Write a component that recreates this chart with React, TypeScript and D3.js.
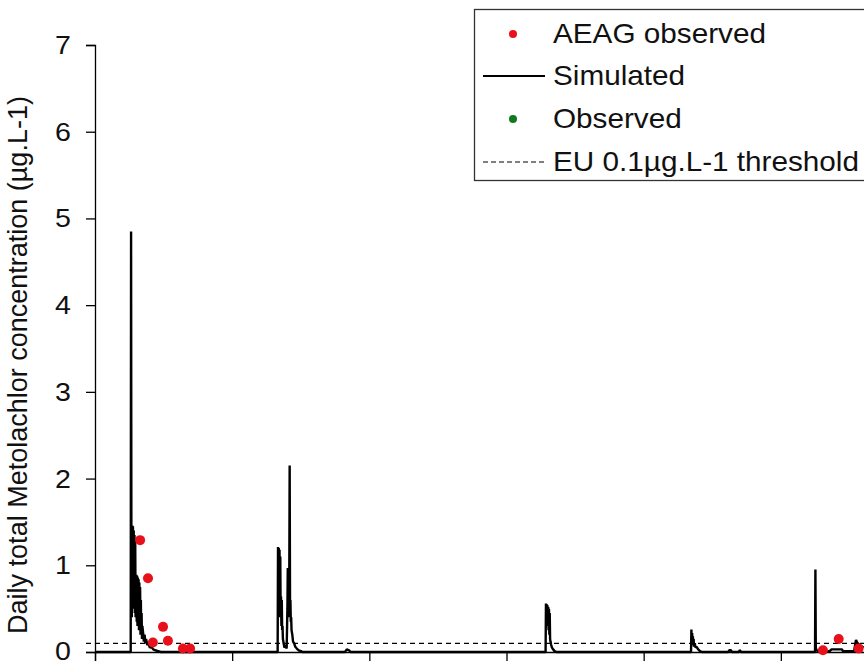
import { useRef, useEffect } from 'react'
import * as d3 from 'd3'

// day index (from start of series) -> daily total concentration (µg/L)
const simulated: [number, number][] = [
  [0, 0], [95, 0], [96, 4.85], [97, 0.45], [98, 0.4], [99, 1.46], [100, 0.6], [101, 1.45],
  [102, 0.5], [103, 1.4], [104, 0.5], [105, 1.35], [106, 0.45], [107, 1.3], [108, 0.4],
  [109, 0.6], [110, 0.89], [111, 0.35], [112, 0.88], [113, 0.3], [114, 0.86], [115, 0.3],
  [116, 0.84], [117, 0.25], [118, 0.8], [119, 0.25], [120, 0.75], [121, 0.2], [122, 0.6],
  [123, 0.2], [124, 0.45], [125, 0.15], [126, 0.3], [128, 0.22], [130, 0.12], [132, 0.2],
  [134, 0.1], [136, 0.15], [139, 0.08], [142, 0.1], [146, 0.05], [150, 0.06], [155, 0.03],
  [160, 0.02], [168, 0.01], [175, 0],
  [486, 0], [487, 1.21], [488, 0.5], [489, 1.2], [490, 0.5], [491, 1.18], [492, 0.4],
  [493, 1.1], [494, 0.4], [495, 0.64], [496, 0.3], [497, 0.6], [498, 0.25], [499, 0.3],
  [500, 0.15], [502, 0.1], [504, 0.05], [507, 0.08], [510, 0.04], [512, 0.5], [513, 0.97],
  [514, 0.4], [515, 0.95], [516, 0.4], [517, 0.9], [518, 2.15], [519, 0.5], [520, 0.6],
  [521, 0.35], [522, 0.4], [523, 0.25], [525, 0.2], [527, 0.12], [530, 0.1], [533, 0.06],
  [537, 0.04], [542, 0.02], [548, 0.01], [552, 0],
  [665, 0], [670, 0.03], [676, 0.02], [680, 0],
  [1199, 0], [1200, 0.56], [1201, 0.3], [1202, 0.55], [1203, 0.3], [1204, 0.54], [1205, 0.3],
  [1206, 0.52], [1207, 0.25], [1208, 0.5], [1209, 0.2], [1210, 0.45], [1211, 0.15],
  [1212, 0.12], [1214, 0.08], [1216, 0.05], [1219, 0.03], [1223, 0.01], [1228, 0],
  [1586, 0], [1587, 0.26], [1588, 0.1], [1589, 0.22], [1590, 0.1], [1591, 0.18], [1592, 0.08],
  [1593, 0.15], [1594, 0.06], [1596, 0.1], [1598, 0.05], [1601, 0.06], [1605, 0.03],
  [1610, 0.01], [1615, 0],
  [1685, 0], [1688, 0.02], [1692, 0.02], [1695, 0], [1713, 0], [1716, 0.02], [1719, 0],
  [1916, 0], [1917, 0.95], [1918, 0.05], [1920, 0.02], [1925, 0.01], [1955, 0.01],
  [1960, 0.03], [1988, 0.03], [1990, 0.01], [2020, 0.01], [2025, 0.14], [2027, 0.12],
  [2030, 0.1], [2035, 0.08], [2045, 0.05],
]

const aeagObserved: [number, number][] = [
  [120, 1.29], [141, 0.85], [154, 0.11], [181, 0.29], [194, 0.13], [234, 0.04], [253, 0.04],
  [1937, 0.02], [1979, 0.15], [2032, 0.04],
]

const observed: [number, number][] = []

const threshold = 0.1
const yTicks = [0, 1, 2, 3, 4, 5, 6, 7]
const xTicks = [0, 365, 730, 1095, 1460, 1825, 2190]

const legendItems = ['AEAG observed', 'Simulated', 'Observed', 'EU 0.1µg.L-1 threshold']

const FONT = 'Liberation Sans, Arial, sans-serif'

export default function App() {
  const svgRef = useRef<SVGSVGElement>(null)

  useEffect(() => {
    if (!svgRef.current) return
    const svg = d3.select(svgRef.current)
    svg.selectAll('*').remove()

    const width = 864
    const height = 663
    const left = 95
    const top = 45
    const bottom = 652

    svg.attr('width', width).attr('height', height)

    const x = d3.scaleLinear().domain([0, 2190]).range([left, 918])
    const y = d3.scaleLinear().domain([0, 7]).range([bottom, top])

    // y axis
    const yAxis = svg
      .append('g')
      .attr('transform', `translate(${left},0)`)
      .call(d3.axisLeft(y).tickValues(yTicks).tickSize(9).tickFormat(() => ''))
    yAxis.select('.domain').attr('stroke', '#000').attr('stroke-width', 1.3)
    yAxis.selectAll('.tick line').attr('stroke', '#000').attr('stroke-width', 1.3)

    // tick labels, slightly stretched like the source
    svg
      .selectAll('.ylab')
      .data(yTicks)
      .enter()
      .append('text')
      .attr('transform', (d) => `translate(71,${Math.min(y(d) + 9, 660)}) scale(1.1,1)`)
      .attr('text-anchor', 'end')
      .attr('font-size', '26px')
      .attr('font-family', FONT)
      .attr('fill', '#111')
      .text((d) => d)

    // x axis (no labels, cropped)
    const xAxis = svg
      .append('g')
      .attr('transform', `translate(0,${bottom})`)
      .call(d3.axisBottom(x).tickValues(xTicks).tickSize(9).tickFormat(() => ''))
    xAxis.select('.domain').attr('stroke', '#000').attr('stroke-width', 1.3)
    xAxis.selectAll('.tick line').attr('stroke', '#000').attr('stroke-width', 1.3)

    // threshold
    svg
      .append('line')
      .attr('x1', left - 9)
      .attr('x2', width)
      .attr('y1', y(threshold))
      .attr('y2', y(threshold))
      .attr('stroke', '#000')
      .attr('stroke-width', 1.3)
      .attr('stroke-dasharray', '5,4')

    // simulated
    const line = d3
      .line<[number, number]>()
      .x((d) => x(d[0]))
      .y((d) => y(d[1]))
    svg
      .append('path')
      .datum(simulated)
      .attr('fill', 'none')
      .attr('stroke', '#000')
      .attr('stroke-width', 2.4)
      .attr('stroke-linejoin', 'bevel')
      .attr('d', line)

    // observed points
    svg
      .selectAll('.aeag')
      .data(aeagObserved)
      .enter()
      .append('circle')
      .attr('cx', (d) => x(d[0]))
      .attr('cy', (d) => y(d[1]))
      .attr('r', 5)
      .attr('fill', '#e8101a')

    svg
      .selectAll('.obs')
      .data(observed)
      .enter()
      .append('circle')
      .attr('cx', (d) => x(d[0]))
      .attr('cy', (d) => y(d[1]))
      .attr('r', 5)
      .attr('fill', '#127a1e')

    // y title
    svg
      .append('text')
      .attr('transform', `translate(27,365) rotate(-90)`)
      .attr('text-anchor', 'middle')
      .attr('font-size', '27px')
      .attr('font-family', FONT)
      .attr('fill', '#111')
      .text('Daily total Metolachlor concentration (µg.L-1)')

    // legend
    const lg = svg.append('g')
    lg.append('rect')
      .attr('x', 474.5)
      .attr('y', 9.5)
      .attr('width', 400)
      .attr('height', 171)
      .attr('fill', '#fff')
      .attr('stroke', '#333')
      .attr('stroke-width', 1.3)

    const rowY = [34, 76, 119, 162]
    legendItems.forEach((label, i) => {
      const cy = rowY[i]
      if (i === 0 || i === 2) {
        lg.append('circle')
          .attr('cx', 513)
          .attr('cy', cy)
          .attr('r', 4)
          .attr('fill', i === 0 ? '#e8101a' : '#127a1e')
      } else {
        lg.append('line')
          .attr('x1', 483)
          .attr('x2', 545)
          .attr('y1', cy)
          .attr('y2', cy)
          .attr('stroke', '#000')
          .attr('stroke-width', i === 1 ? 2 : 1.2)
          .attr('stroke-dasharray', i === 3 ? '5,3' : null)
      }
      lg.append('text')
        .attr('transform', `translate(553,${cy + 9}) scale(1.1,1)`)
        .attr('font-size', '27px')
        .attr('font-family', FONT)
        .attr('fill', '#111')
        .text(label)
    })
  }, [])

  return (
    <div style={{ position: 'absolute', left: 0, top: 0, background: '#fff' }}>
      <svg ref={svgRef} style={{ display: 'block' }} />
    </div>
  )
}
